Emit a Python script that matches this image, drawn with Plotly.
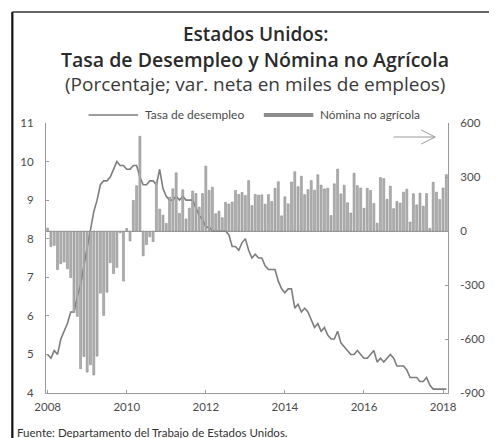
import pandas as pd
import plotly.graph_objects as go

# Months Jan-2008 .. Feb-2018 (categories)
meses = [d.strftime("%Y-%m") for d in pd.date_range("2008-01-01", "2018-02-01", freq="MS")]

# Tasa de desempleo (%), mensual
desempleo = [
    5.0, 4.9, 5.1, 5.0, 5.4, 5.6, 5.8, 6.1, 6.1, 6.5, 6.8, 7.3,   # 2008
    7.8, 8.3, 8.7, 9.0, 9.4, 9.5, 9.5, 9.6, 9.8, 10.0, 9.9, 9.9,  # 2009
    9.8, 9.8, 9.9, 9.9, 9.6, 9.4, 9.4, 9.5, 9.5, 9.4, 9.8, 9.3,   # 2010
    9.1, 9.0, 9.0, 9.1, 9.0, 9.1, 9.0, 9.0, 9.0, 8.8, 8.6, 8.5,   # 2011
    8.3, 8.3, 8.2, 8.2, 8.2, 8.2, 8.2, 8.1, 7.8, 7.8, 7.7, 7.9,   # 2012
    8.0, 7.7, 7.5, 7.6, 7.5, 7.5, 7.3, 7.2, 7.2, 7.2, 6.9, 6.7,   # 2013
    6.6, 6.7, 6.7, 6.2, 6.3, 6.1, 6.2, 6.1, 5.9, 5.7, 5.8, 5.6,   # 2014
    5.7, 5.5, 5.4, 5.4, 5.6, 5.3, 5.2, 5.1, 5.0, 5.0, 5.1, 5.0,   # 2015
    4.9, 4.9, 5.0, 5.1, 4.8, 4.9, 4.8, 4.9, 5.0, 4.9, 4.7, 4.7,   # 2016
    4.7, 4.6, 4.4, 4.4, 4.4, 4.3, 4.3, 4.4, 4.2, 4.1, 4.1, 4.1,   # 2017
    4.1, 4.1,                                                     # 2018
]

# Nómina no agrícola: variación neta mensual (miles de empleos)
nomina = [
    16, -86, -80, -214, -182, -172, -210, -259, -452, -474, -765, -697,      # 2008
    -784, -743, -800, -695, -345, -469, -340, -176, -237, -202, -10, -278,   # 2009
    14, -55, 170, 252, 526, -138, -75, -32, -59, 270, 122, 88,               # 2010
    42, 188, 234, 323, 98, 229, 67, 127, 222, 208, 132, 208,                 # 2011
    360, 226, 243, 96, 110, 74, 159, 150, 161, 225, 203, 214,                # 2012
    197, 280, 141, 203, 199, 201, 149, 202, 164, 237, 274, 84,               # 2013
    190, 151, 272, 329, 246, 304, 202, 230, 280, 227, 312, 255,              # 2014
    234, 238, 86, 262, 344, 206, 254, 157, 100, 321, 252, 239,               # 2015
    126, 237, 225, 153, 43, 297, 291, 176, 249, 124, 164, 155,               # 2016
    216, 232, 50, 207, 145, 210, 138, 208, 14, 271, 216, 175,                # 2017
    239, 313,                                                                # 2018
]

tick_meses = ["2008-01", "2010-01", "2012-01", "2014-01", "2016-01", "2018-01"]
tick_anios = ["2008", "2010", "2012", "2014", "2016", "2018"]
tick_izq = [4, 5, 6, 7, 8, 9, 10, 11]
tick_der = [-900, -600, -300, 0, 300, 600]
tick_der_txt = ["-900", "-600", "-300", "0", "300", "600"]

PAGE_W, PAGE_H = 497, 438
OFF = 8  # default body margin of the page
L, R, T, B = 42, 448, 123, 393  # plot area in page pixels


def px(x):
    return (x - L) / (R - L)


def py(y):
    return (B - y) / (B - T)


FONT = "Open Sans"
TFONT = "Lato"
fig = go.Figure()
fig.add_trace(go.Bar(
    x=meses, y=nomina, yaxis="y2", name="Nómina no agrícola",
    marker=dict(color="#b0b0b0", line=dict(color="#8c8c8c", width=0.6)),
    showlegend=False,
))
fig.add_trace(go.Scatter(
    x=meses, y=desempleo, mode="lines", name="Tasa de desempleo",
    line=dict(color="#7d7d7d", width=1.6), showlegend=False,
))

axis_common = dict(
    showgrid=False, showline=True, linecolor="#9a9a9a", linewidth=1,
    ticks="inside", ticklen=3, tickcolor="#9a9a9a",
    tickfont=dict(family=TFONT, size=11.5, color="#4a4a4a"),
)

fig.update_layout(
    width=PAGE_W - OFF, height=PAGE_H - OFF,
    margin=dict(l=L - OFF, r=PAGE_W - R, t=T - OFF, b=PAGE_H - B, pad=0),
    paper_bgcolor="white", plot_bgcolor="white",
    bargap=0.4,
    xaxis=dict(type="category", range=[-0.5, len(meses) - 0.5],
               tickmode="array", tickvals=tick_meses, ticktext=tick_anios,
               ticklabelstandoff=3, **axis_common),
    yaxis=dict(range=[4, 11], tickmode="array", tickvals=tick_izq,
               ticklabelstandoff=9, zeroline=False, **axis_common),
    yaxis2=dict(range=[-900, 600], overlaying="y", side="right",
                tickmode="array", tickvals=tick_der, ticktext=tick_der_txt,
                ticklabelstandoff=9, zeroline=True, zerolinecolor="#9a9a9a",
                zerolinewidth=1, **axis_common),
)

ann = [
    dict(text="Estados Unidos:", x=px(254), y=py(34), size=19, weight=600, color="#2a2a2a"),
    dict(text="Tasa de Desempleo y Nómina no Agrícola", x=px(253), y=py(60), size=19.5, weight=600, color="#2a2a2a"),
    dict(text="(Porcentaje; var. neta en miles de empleos)", x=px(253), y=py(84), size=19, weight=400, color="#3a3a3a"),
]
for a in ann:
    fig.add_annotation(text=a["text"], x=a["x"], y=a["y"], xref="paper", yref="paper",
                       xanchor="center", yanchor="middle", showarrow=False,
                       font=dict(family=FONT, size=a["size"], color=a["color"], weight=a["weight"]))

# Legend (drawn)
fig.add_shape(type="line", xref="paper", yref="paper", x0=px(85), x1=px(135), y0=py(115), y1=py(115),
              line=dict(color="#7d7d7d", width=1.4))
fig.add_annotation(text="Tasa de desempleo", x=px(140), y=py(115), xref="paper", yref="paper",
                   xanchor="left", yanchor="middle", showarrow=False,
                   font=dict(family=TFONT, size=12, color="#4a4a4a"))
fig.add_shape(type="rect", xref="paper", yref="paper", x0=px(262), x1=px(312), y0=py(113), y1=py(117),
              fillcolor="#8c8c8c", line=dict(width=0))
fig.add_annotation(text="Nómina no agrícola", x=px(317), y=py(115), xref="paper", yref="paper",
                   xanchor="left", yanchor="middle", showarrow=False,
                   font=dict(family=TFONT, size=11.8, color="#4a4a4a"))

# Arrow pointing to right axis
fig.add_shape(type="line", xref="paper", yref="paper", x0=px(393), x1=px(435), y0=py(137), y1=py(137),
              line=dict(color="#9a9a9a", width=1))
fig.add_shape(type="path", xref="paper", yref="paper",
              path=f"M {px(421)},{py(130)} L {px(435)},{py(137)} L {px(421)},{py(144)}",
              line=dict(color="#9a9a9a", width=1))

# Frame
fig.add_shape(type="line", xref="paper", yref="paper", x0=px(8), x1=px(8), y0=py(12), y1=py(440),
              line=dict(color="#111111", width=2.2))
fig.add_shape(type="line", xref="paper", yref="paper", x0=px(8), x1=px(499), y0=py(12), y1=py(12),
              line=dict(color="#333333", width=1.5))

# Source
fig.add_annotation(text="Fuente: Departamento del Trabajo de Estados Unidos.", x=px(11), y=py(432),
                   xref="paper", yref="paper", xanchor="left", yanchor="middle", showarrow=False,
                   font=dict(family=TFONT, size=11.5, color="#333333"))

fig.write_html("out.html")
